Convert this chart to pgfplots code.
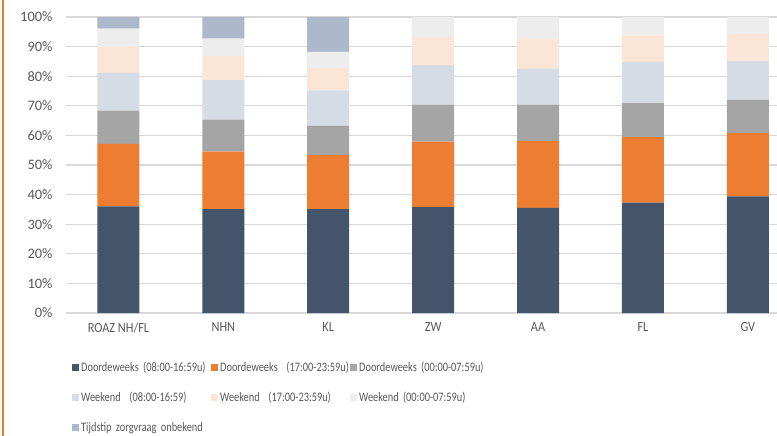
\documentclass[border=0pt]{standalone}
\usepackage{pgfplots}
\pgfplotsset{compat=1.18}
\usepackage{pgfplotstable}
\usepackage{fontspec}
\setmainfont{Carlito}[FakeStretch=0.88]
\newfontfamily\legfont{Carlito}[FakeStretch=0.8]
\newfontfamily\ytfont{Carlito}
\definecolor{cA}{HTML}{44546A}
\definecolor{cB}{HTML}{ED7D31}
\definecolor{cC}{HTML}{A5A5A5}
\definecolor{cD}{HTML}{D6DCE5}
\definecolor{cE}{HTML}{FBE5D6}
\definecolor{cF}{HTML}{EDEDED}
\definecolor{cG}{HTML}{ADB9CA}
\definecolor{tickgray}{HTML}{595959}
\definecolor{gridgray}{HTML}{D9D9D9}
\definecolor{frameor}{HTML}{ED7D31}
\pgfplotstableread{
x a b c d e f g
0 36.0 21.1 11.3 12.7 8.8 6.2 3.9
1 35.1 19.4 10.8 13.4 8.2 5.8 7.3
2 35.1 18.3 9.9 11.9 7.6 5.4 11.8
3 35.8 22.1 12.5 13.3 9.6 6.7 0
4 35.5 22.6 12.3 12.1 9.9 7.6 0
5 37.3 22.1 11.5 13.9 9.0 6.2 0
6 39.4 21.4 11.3 13.0 9.2 5.7 0
}\datatable
\begin{document}
\begin{tikzpicture}
\useasboundingbox (-66bp,-123bp) rectangle (711bp,313bp);
\begin{axis}[
  scale only axis,
  width=711bp, height=296bp,
  ybar stacked,
  bar width=42bp,
  xmin=-0.5, xmax=6.278,
  ymin=0, ymax=100,
  xtick={0,1,2,3,4,5,6},
  xticklabels={ROAZ NH/FL,NHN,KL,ZW,AA,FL,GV},
  ytick={0,10,...,100},
  yticklabels={0\%,10\%,20\%,30\%,40\%,50\%,60\%,70\%,80\%,90\%,100\%},
  major tick length=0pt,
  axis line style={draw=none},
  ymajorgrids,
  grid style={gridgray, line width=1.3bp},
  xticklabel style={font=\fontsize{14}{16}\selectfont, text=tickgray, yshift=-6bp},
  yticklabel style={font=\ytfont\fontsize{14.5}{16}\selectfont, text=tickgray, xshift=-10bp},
  legend columns=3,
  legend cell align=left,
  legend style={
    at={(axis description cs:0,0)}, anchor=north west,
    xshift=6bp, yshift=-49bp,
    draw=none, fill=none, inner sep=0pt,
    font=\legfont\fontsize{13}{15}\selectfont, text=tickgray,
    row sep=19bp,
    nodes={text width=122bp, align=left, inner xsep=2bp, inner ysep=0pt},
    /tikz/every even column/.append style={column sep=6bp},
  },
  legend image code/.code={\path[#1,draw=none] (0bp,-3.5bp) rectangle (7bp,3.5bp);},
]
\addplot[fill=cA, draw=none] table[x=x,y=a]{\datatable};
\addplot[fill=cB, draw=none] table[x=x,y=b]{\datatable};
\addplot[fill=cC, draw=none] table[x=x,y=c]{\datatable};
\addplot[fill=cD, draw=none] table[x=x,y=d]{\datatable};
\addplot[fill=cE, draw=none] table[x=x,y=e]{\datatable};
\addplot[fill=cF, draw=none] table[x=x,y=f]{\datatable};
\addplot[fill=cG, draw=none] table[x=x,y=g]{\datatable};
\legend{\mbox{Doordeweeks (08:00-16:59u)},\mbox{Doordeweeks\ \ (17:00-23:59u)},\mbox{Doordeweeks (00:00-07:59u)},\mbox{Weekend\ \ (08:00-16:59)},\mbox{Weekend\ \ (17:00-23:59u)},\mbox{Weekend (00:00-07:59u)},\mbox{Tijdstip zorgvraag onbekend}}
\end{axis}
\draw[frameor, line width=2bp] (-63bp,-123bp) -- (-63bp,313bp);
\end{tikzpicture}
\end{document}
